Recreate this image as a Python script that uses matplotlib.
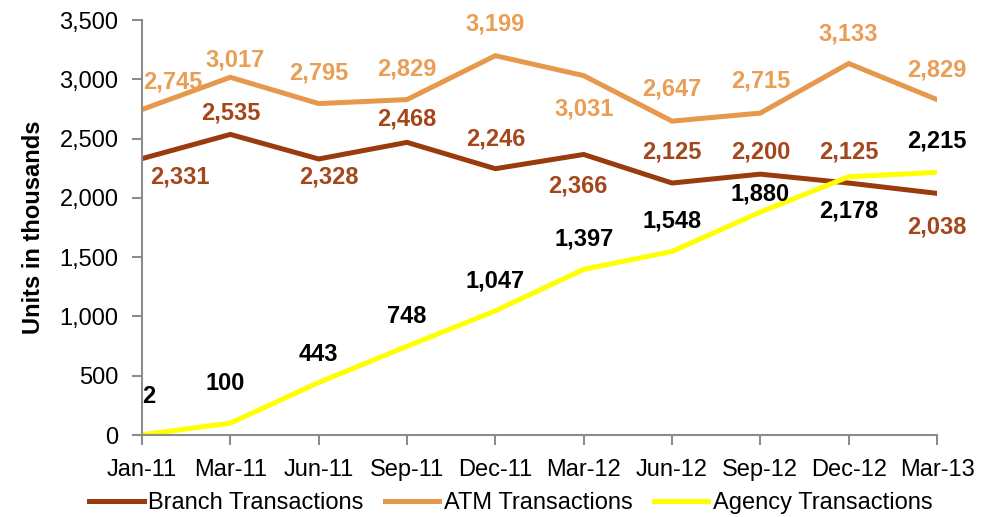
import matplotlib.pyplot as plt

plt.rcParams['font.family'] = ['Liberation Sans', 'DejaVu Sans']

quarters = ['Jan-11', 'Mar-11', 'Jun-11', 'Sep-11', 'Dec-11',
            'Mar-12', 'Jun-12', 'Sep-12', 'Dec-12', 'Mar-13']
branch = [2331, 2535, 2328, 2468, 2246, 2366, 2125, 2200, 2125, 2038]
atm = [2745, 3017, 2795, 2829, 3199, 3031, 2647, 2715, 3133, 2829]
agency = [2, 100, 443, 748, 1047, 1397, 1548, 1880, 2178, 2215]

# label offsets in pixels (dx, dy), up is positive
branch_off = [(38, -18), (0, 21), (10, -18), (0, 23), (0, 30),
              (-6, -32), (0, 31), (0, 22), (0, 31), (0, -34)]
atm_off = [(31, 28), (5, 17), (0, 31), (0, 31), (0, 32),
           (0, -33), (0, 32), (0, 32), (0, 30), (0, 30)]
agency_off = [(7, 38), (-5, 40), (0, 28), (0, 30), (0, 30),
              (0, 30), (0, 30), (0, 18), (0, -34), (0, 31)]

c_branch = '#993B0D'
c_branch_lbl = '#A4461A'
c_atm = '#E6984C'
c_atm_lbl = '#E99E54'
c_agency = '#FFFF00'
fs = 17

fig = plt.figure(figsize=(9.89, 5.17), dpi=100)
ax = fig.add_axes([142 / 989, 82 / 517, 795 / 989, 415 / 517])

x = list(range(len(quarters)))
ax.plot(x, branch, color=c_branch, lw=3.6, label='Branch Transactions', solid_joinstyle='miter')
ax.plot(x, atm, color=c_atm, lw=3.6, label='ATM Transactions', solid_joinstyle='miter')
ax.plot(x, agency, color=c_agency, lw=3.6, label='Agency Transactions', solid_joinstyle='miter')

def put_labels(vals, offs, color):
    for i, (v, (dx, dy)) in enumerate(zip(vals, offs)):
        ax.annotate(f'{v:,}', (i, v), xytext=(dx, dy), textcoords='offset pixels',
                    ha='center', va='center', fontsize=fs, fontweight='bold',
                    color=color, annotation_clip=False)

put_labels(branch, branch_off, c_branch_lbl)
put_labels(atm, atm_off, c_atm_lbl)
put_labels(agency, agency_off, 'black')

ax.set_xlim(0, len(quarters) - 1)
ax.set_ylim(0, 3500)
ax.set_xticks(x)
ax.set_xticklabels(quarters)
ax.set_yticks(range(0, 3501, 500))
ax.set_yticklabels([f'{t:,}' for t in range(0, 3501, 500)])
ax.tick_params(labelsize=fs, length=7, width=1.5, color='#8C8C8C', pad=10)
for s in ['top', 'right']:
    ax.spines[s].set_visible(False)
for s in ['left', 'bottom']:
    ax.spines[s].set_color('#8C8C8C')
    ax.spines[s].set_linewidth(1.5)
ax.set_ylabel('Units in thousands', fontsize=fs, fontweight='bold')
ax.yaxis.set_label_coords(-0.122, 0.5)

fig.legend(loc='center', bbox_to_anchor=(511 / 989, 14 / 517), ncol=3, frameon=False,
           fontsize=fs, handlelength=2.3, handletextpad=0.2, columnspacing=0.9)

fig.savefig('out.png', dpi=100)
